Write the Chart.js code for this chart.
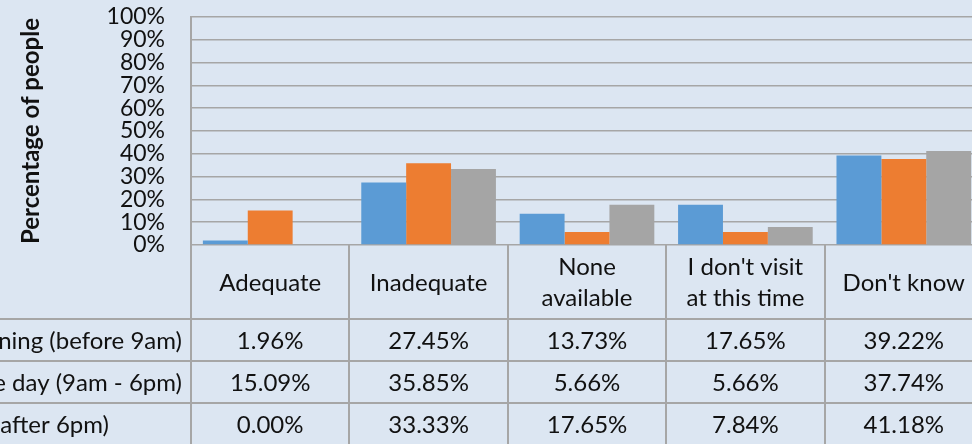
<!DOCTYPE html>
<html>
<head>
<meta charset="utf-8">
<script src="https://cdn.jsdelivr.net/npm/chart.js@4.4.1/dist/chart.umd.min.js"></script>
<style>
  html, body { margin: 0; padding: 0; background: #dce6f2; overflow: hidden; width: 972px; height: 444px; }
  canvas { display: block; }
</style>
</head>
<body>
<canvas id="c" width="990" height="444"></canvas>
<script>
const categories = [["Adequate"], ["Inadequate"], ["None", "available"], ["I don't visit", "at this time"], ["Don't know"]];
const seriesNames = ["In the morning (before 9am)", "During the day (9am - 6pm)", "Evening (after 6pm)"];
const morning = [1.96, 27.45, 13.73, 17.65, 39.22];
const day = [15.09, 35.85, 5.66, 5.66, 37.74];
const evening = [0.00, 33.33, 17.65, 7.84, 41.18];
const yTicks = [0, 10, 20, 30, 40, 50, 60, 70, 80, 90, 100];
const colors = ["#5b9bd5", "#ed7d31", "#a5a5a5"];

const FONT = "Lato, 'Open Sans', sans-serif";
const GRID = "#a6a6a6";

const tablePlugin = {
  id: "dataTable",
  afterDraw(chart) {
    const ctx = chart.ctx;
    const x = chart.scales.x;
    const area = chart.chartArea;
    const n = categories.length;
    const half = (x.getPixelForValue(1) - x.getPixelForValue(0)) / 2;
    const top = area.bottom;
    const headerH = 74, rowH = 42;
    const rows = [morning, day, evening];
    const labelRight = [182, 182, 109];
    ctx.save();
    ctx.strokeStyle = GRID;
    ctx.lineWidth = 2;
    for (let r = 0; r < rows.length; r++) {
      const y = top + headerH + r * rowH;
      ctx.beginPath();
      ctx.moveTo(0, y);
      ctx.lineTo(chart.width, y);
      ctx.stroke();
    }
    for (let i = 0; i <= n; i++) {
      const xp = Math.round(x.getPixelForValue(i) - half);
      ctx.beginPath();
      ctx.moveTo(xp, top);
      ctx.lineTo(xp, chart.height);
      ctx.stroke();
    }
    ctx.fillStyle = "#111";
    ctx.textBaseline = "middle";
    ctx.font = "24px " + FONT;
    ctx.textAlign = "center";
    categories.forEach((lines, i) => {
      const cx = x.getPixelForValue(i);
      const lh = 31;
      const cy = top + headerH / 2 + 1;
      lines.forEach((t, k) => {
        ctx.fillText(t, cx, cy + (k - (lines.length - 1) / 2) * lh);
      });
    });
    rows.forEach((vals, r) => {
      const cy = top + headerH + r * rowH + rowH / 2 + 1;
      ctx.textAlign = "right";
      ctx.fillText(seriesNames[r], labelRight[r], cy);
      ctx.textAlign = "center";
      vals.forEach((v, i) => {
        ctx.fillText(v.toFixed(2) + "%", x.getPixelForValue(i), cy);
      });
    });
    ctx.restore();
  }
};

new Chart(document.getElementById("c"), {
  type: "bar",
  data: {
    labels: categories.map(c => c.join(" ")),
    datasets: [
      { label: seriesNames[0], data: morning, backgroundColor: colors[0] },
      { label: seriesNames[1], data: day, backgroundColor: colors[1] },
      { label: seriesNames[2], data: evening, backgroundColor: colors[2] }
    ]
  },
  options: {
    responsive: false,
    animation: false,
    devicePixelRatio: 1,
    layout: { padding: { top: 17, right: 7, left: 0, bottom: 0 } },
    datasets: { bar: { categoryPercentage: 0.85, barPercentage: 1.0, borderWidth: 0 } },
    plugins: { legend: { display: false }, tooltip: { enabled: false } },
    scales: {
      x: {
        ticks: { display: false },
        grid: { display: false },
        border: { display: false },
        afterFit(s) { s.height = 199; s.paddingLeft = 0; s.paddingRight = 0; }
      },
      y: {
        min: 0, max: 100,
        afterBuildTicks(s) { s.ticks = yTicks.map(v => ({ value: v })); },
        ticks: {
          autoSkip: false,
          callback: v => v + "%",
          color: "#111",
          font: { family: FONT, size: 23 },
          padding: 26
        },
        grid: { color: GRID, lineWidth: 1.5, drawTicks: false },
        border: { color: GRID, width: 2 },
        title: {
          display: true,
          text: "Percentage of people",
          color: "#111",
          font: { family: FONT, size: 24, weight: "bold" },
          padding: { top: 17, bottom: 0 }
        },
        afterFit(s) { s.width = 191; s.paddingTop = 0; s.paddingBottom = 0; }
      }
    }
  },
  plugins: [tablePlugin]
});
</script>
</body>
</html>
